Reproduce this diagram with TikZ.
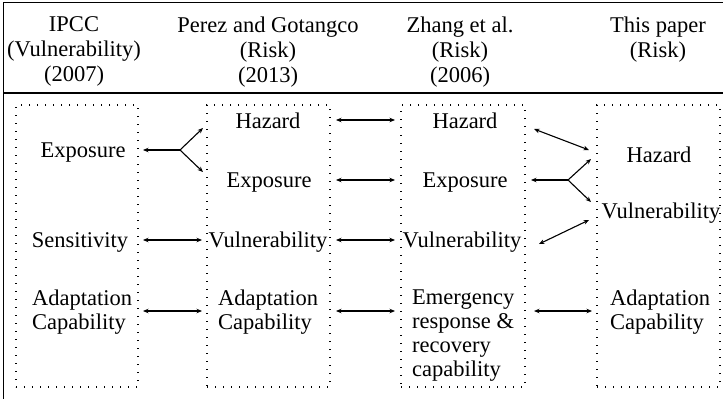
\documentclass[tikz,border=0pt]{standalone}
\usepackage{fontspec}
\setmainfont{Liberation Serif}
\usetikzlibrary{arrows.meta}
\begin{document}
\begin{tikzpicture}[x=1bp,y=-1bp,
  txt/.style={inner sep=0pt, font=\fontsize{22.5bp}{24bp}\selectfont},
  hdr/.style={inner sep=0pt, align=center, anchor=north, font=\fontsize{22.5bp}{25bp}\selectfont},
  term/.style={txt, anchor=base},
  stack/.style={txt, align=left, anchor=north west},
  column/.style={draw, line width=1.3bp, dash pattern=on 1.3bp off 6.7bp,
    inner sep=0pt, minimum height=282bp},
  rule/.style={line width=1.4bp},
  tip/.style={Stealth[length=5.5bp,width=4.5bp]},
  link/.style={line width=1.1bp, {Stealth[length=5.5bp,width=4.5bp]}-{Stealth[length=5.5bp,width=4.5bp]}},
  toward/.style={line width=1.1bp, -{Stealth[length=5.5bp,width=4.5bp]}},
  branch/.style={line width=1.1bp}]
\useasboundingbox (0,0) rectangle (723,399);

% table frame
\coordinate (tr) at (723,2.5);
\coordinate (tl) at (3.5,2.5);
\coordinate (bl) at (3.5,399);
\coordinate (hl) at (3.5,93);
\coordinate (hr) at (723,93);
\draw[rule] (tr) -- (tl) -- (bl);
\draw[rule] (hl) -- (hr);

% column headings
\node[hdr] (h1) at (74,16.5) {IPCC\\(Vulnerability)\\(2007)};
\node[hdr] (h2) at (268,16.5) {Perez and Gotangco\\(Risk)\\(2013)};
\node[hdr] (h3) at (460,16.5) {Zhang et al.\\(Risk)\\(2006)};
\node[hdr] (h4) at (658,16.5) {This paper\\(Risk)};

% dotted columns
\node[column, minimum width=122bp] (c1) at (77,246) {};
\node[column, minimum width=123bp] (c2) at (268.5,246) {};
\node[column, minimum width=124bp] (c3) at (463,246) {};
\node[column, minimum width=123bp] (c4) at (658.5,246) {};

% IPCC components
\node[term] (ipE) at (83,157) {Exposure};
\node[term] (ipS) at (80,247) {Sensitivity};
\node[stack] (ipA) at (32,289.6) {Adaptation\\Capability};

% Perez and Gotangco components
\node[term] (pgH) at (268,128) {Hazard};
\node[term] (pgE) at (269,187) {Exposure};
\node[term] (pgV) at (268,247) {Vulnerability};
\node[stack] (pgA) at (218,289.6) {Adaptation\\Capability};

% Zhang et al. components
\node[term] (zhH) at (465,128) {Hazard};
\node[term] (zhE) at (465,187) {Exposure};
\node[term] (zhV) at (462,247) {Vulnerability};
\node[stack] (zhR) at (412,290) {Emergency\\response \&\\recovery\\capability};

% this paper's components
\node[term] (tpH) at (659,162) {Hazard};
\node[term] (tpV) at (661,218) {Vulnerability};
\node[stack] (tpA) at (610,289.6) {Adaptation\\Capability};

% connector end points
\coordinate (ipEr) at (143,150);
\coordinate (fA) at (180,150);
\coordinate (pgHl) at (203,128);
\coordinate (pgEl) at (203,172);
\coordinate (pgHr) at (336,120);
\coordinate (zhHl) at (395,120);
\coordinate (pgEr) at (336,180);
\coordinate (zhEl) at (395,180);
\coordinate (ipSr) at (143,240);
\coordinate (pgVl) at (202,240);
\coordinate (pgVr) at (336,240);
\coordinate (zhVl) at (395,240);
\coordinate (ipAr) at (143,311);
\coordinate (pgAl) at (202,311);
\coordinate (pgAr) at (336,311);
\coordinate (zhRl) at (395,311);
\coordinate (zhRr) at (534,311);
\coordinate (tpAl) at (592,311);
\coordinate (zhHr) at (534,129);
\coordinate (tpHl) at (589,150);
\coordinate (zhEr) at (531,180);
\coordinate (fB) at (568,180);
\coordinate (tpHb) at (591,159);
\coordinate (tpVt) at (591,202);
\coordinate (zhVr) at (539,244);
\coordinate (tpVl) at (589,220);

% IPCC <-> Perez and Gotangco
\draw[toward] (fA) -- (ipEr);
\draw[toward] (fA) -- (pgHl);
\draw[toward] (fA) -- (pgEl);
\draw[link] (ipSr) -- (pgVl);
\draw[link] (ipAr) -- (pgAl);

% Perez and Gotangco <-> Zhang et al.
\draw[link] (pgHr) -- (zhHl);
\draw[link] (pgEr) -- (zhEl);
\draw[link] (pgVr) -- (zhVl);
\draw[link] (pgAr) -- (zhRl);

% Zhang et al. <-> this paper
\draw[link] (zhHr) -- (tpHl);
\draw[toward] (fB) -- (zhEr);
\draw[toward] (fB) -- (tpHb);
\draw[toward] (fB) -- (tpVt);
\draw[link] (zhVr) -- (tpVl);
\draw[link] (zhRr) -- (tpAl);
\end{tikzpicture}
\end{document}
